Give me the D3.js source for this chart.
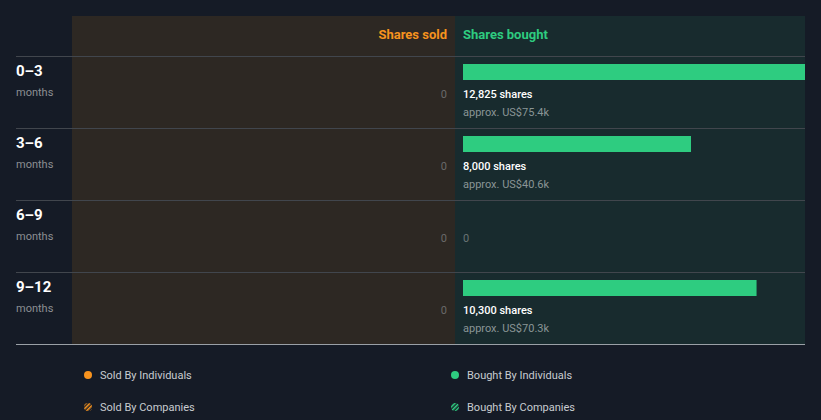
<!DOCTYPE html>
<html><head><meta charset="utf-8">
<script src="https://cdn.jsdelivr.net/npm/d3@7"></script>
<style>html,body{margin:0;padding:0;background:#151b26;}svg{display:block;font-family:Roboto,"Noto Sans",sans-serif;}</style>
</head><body>
<script>
const periods = ["0–3", "3–6", "6–9", "9–12"];
const periodUnit = "months";
const sharesSold = [0, 0, 0, 0];
const sharesBought = [12825, 8000, 0, 10300];
const boughtValue = ["US$75.4k", "US$40.6k", "", "US$70.3k"];
const legendItems = ["Sold By Individuals", "Bought By Individuals", "Sold By Companies", "Bought By Companies"];

(function(){
const W = 821, H = 420;
const svg = d3.select("body").append("svg").attr("width", W).attr("height", H);
const defs = svg.append("defs");
[["hatchO","#f7931e"],["hatchG","#2ecc80"]].forEach(([id,c])=>{
  const p = defs.append("pattern").attr("id",id).attr("patternUnits","userSpaceOnUse").attr("width",3).attr("height",3).attr("patternTransform","rotate(45)");
  p.append("rect").attr("width",1.6).attr("height",3).attr("fill",c);
});

const left = 16, panelL = 72, mid = 455, right = 805, top0 = 16, headH = 40, rowH = 72;
const y = d3.scaleBand().domain(periods).range([top0 + headH, top0 + headH + rowH * periods.length]);
const x = d3.scaleLinear().domain([0, 12000]).range([mid + 8, right]).clamp(true);

svg.append("rect").attr("x", panelL).attr("y", top0).attr("width", mid - panelL).attr("height", y.range()[1] - top0).attr("fill", "#2d2823");
svg.append("rect").attr("x", mid).attr("y", top0).attr("width", right - mid).attr("height", y.range()[1] - top0).attr("fill", "#182b2e");

svg.append("text").attr("x", mid - 8).attr("y", top0 + 23).attr("text-anchor", "end").attr("fill", "#f7931e").attr("font-size", 13).attr("font-weight", 700).text("Shares sold");
svg.append("text").attr("x", mid + 8).attr("y", top0 + 23).attr("fill", "#2ecc80").attr("font-size", 13).attr("font-weight", 700).text("Shares bought");

periods.forEach((p, i) => {
  const y0 = y(p);
  svg.append("line").attr("x1", left).attr("x2", right).attr("y1", y0 + 0.5).attr("y2", y0 + 0.5).attr("stroke", "#41464d").attr("stroke-width", 1);
  svg.append("text").attr("x", left).attr("y", y0 + 20).attr("fill", "#ffffff").attr("font-size", 15).attr("font-weight", 700).text(p);
  svg.append("text").attr("x", left).attr("y", y0 + 40).attr("fill", "#8c8f93").attr("font-size", 11).text(periodUnit);
  svg.append("text").attr("x", mid - 8).attr("y", y0 + 42).attr("text-anchor", "end").attr("fill", "#6a6a6a").attr("font-size", 11).text(d3.format(",")(sharesSold[i]));
  const v = sharesBought[i];
  if (v > 0) {
    svg.append("rect").attr("x", x(0)).attr("y", y0 + 8).attr("width", x(v) - x(0)).attr("height", 16).attr("fill", "#2ecc80");
    svg.append("text").attr("x", x(0)).attr("y", y0 + 42).attr("fill", "#ffffff").attr("font-size", 11).attr("font-weight", 500).text(d3.format(",")(v) + " shares");
    svg.append("text").attr("x", x(0)).attr("y", y0 + 60).attr("fill", "#8a9596").attr("font-size", 11).text("approx. " + boughtValue[i]);
  } else {
    svg.append("text").attr("x", x(0)).attr("y", y0 + 42).attr("fill", "#6a7475").attr("font-size", 11).text("0");
  }
});
svg.append("line").attr("x1", left).attr("x2", right).attr("y1", y.range()[1] + 0.5).attr("y2", y.range()[1] + 0.5).attr("stroke", "#9aa0a6").attr("stroke-width", 1);

const lx = [88, 455], ly = [375, 407];
legendItems.forEach((t, i) => {
  const cx = lx[i % 2], cy = ly[Math.floor(i / 2)];
  const col = i % 2 === 0 ? "#f7931e" : "#2ecc80";
  const fill = i < 2 ? col : (i % 2 === 0 ? "url(#hatchO)" : "url(#hatchG)");
  svg.append("circle").attr("cx", cx).attr("cy", cy).attr("r", 4).attr("fill", fill);
  svg.append("text").attr("x", cx + 12).attr("y", cy + 4).attr("fill", "#c8ccd0").attr("font-size", 11).text(t);
});
})();
</script>
</body></html>
